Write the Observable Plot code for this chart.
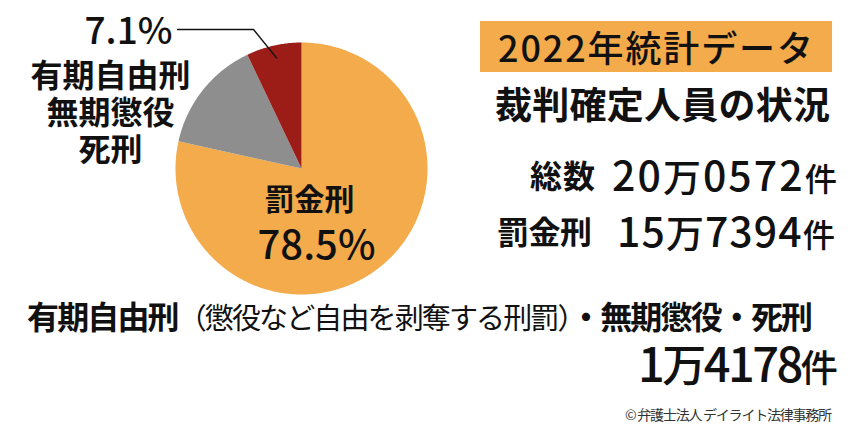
<!DOCTYPE html>
<html><head><meta charset="utf-8">
<script src="https://cdn.jsdelivr.net/npm/d3@7"></script>
<script src="https://cdn.jsdelivr.net/npm/@observablehq/plot@0.6"></script>
<style>
body{margin:0;background:#fff;}
#wrap{position:relative;width:850px;height:432px;overflow:hidden;font-family:"Noto Sans CJK JP","Noto Sans",sans-serif;color:#111;}
#wrap svg{position:absolute;left:0;top:0;overflow:visible;}
.t{position:absolute;white-space:nowrap;line-height:0.9;display:inline-block;}
.box{position:absolute;left:480px;top:21px;width:352px;height:51px;background:#F3AB4B;}
</style></head><body><div id="wrap"><div class="box"></div></div>
<script>
// ---- data ----
const categories = ["罰金刑", "その他", "有期自由刑・無期懲役・死刑"];
const counts = [157394, 29000, 14178];
const shares = [78.5, 14.4, 7.1];
const colors = ["#F3AB4B", "#8E8E8E", "#9C1C17"];
const total = 200572;
const year = "2022";

// ---- slices (angles clockwise from 12 o'clock) ----
const sum = d3.sum(counts);
let acc = 0;
const slices = categories.map((name, i) => {
  const a0 = acc / sum * 2 * Math.PI; acc += counts[i];
  const a1 = acc / sum * 2 * Math.PI;
  const n = Math.max(2, Math.ceil((a1 - a0) / 0.01));
  const ring = [[0, 0]];
  for (let k = 0; k <= n; k++) { const t = a0 + (a1 - a0) * k / n; ring.push([Math.sin(t), Math.cos(t)]); }
  ring.push([0, 0]);
  return {name, a0, a1, geometry: {type: "Polygon", coordinates: [ring]}};
});
const red = slices[2];
const mid = (red.a0 + red.a1) / 2;
const leader = [[-0.984, 1.103], [-0.381, 1.103], [0.9 * Math.sin(mid), 0.9 * Math.cos(mid)]];

const font = '"Noto Sans CJK JP","Noto Sans",sans-serif';
const chart = Plot.plot({
  width: 850, height: 432,
  marginLeft: 175, marginRight: 423, marginTop: 42, marginBottom: 138,
  projection: {type: "reflect-y", clip: false, domain: {type: "MultiPoint", coordinates: [[-1, -1], [1, 1]]}},
  color: {domain: categories, range: colors},
  style: {background: "transparent", fontFamily: font, color: "#111", overflow: "visible"},
  marks: [
    Plot.geo(slices, {geometry: "geometry", fill: "name", clip: false}),
    Plot.line(leader, {x: d => d[0], y: d => d[1], stroke: "#111", strokeWidth: 1.4, clip: false}),
    Plot.text([`${shares[2]}%`], {x: -1.024, y: 1.083, text: d => d, textAnchor: "end", fontSize: 37, fontWeight: 500, fill: "#111", clip: false}),
    Plot.text(["有期自由刑\n無期懲役\n死刑"], {x: -1.516, y: 0.448, text: d => d, fontSize: 32, fontWeight: 700, lineHeight: 1.17, fill: "#111", clip: false}),
    Plot.text([categories[0]], {x: 0.063, y: -0.255, text: d => d, fontSize: 30, fontWeight: 700, fill: "#111"}),
    Plot.text([`${shares[0]}%`], {x: 0.119, y: -0.615, text: d => d, fontSize: 40, fontWeight: 500, fill: "#111"})
  ]
});
const wrap = document.getElementById("wrap");
wrap.insertBefore(chart, wrap.firstChild);

// ---- text blocks ----
function man(n) { const m = Math.floor(n / 10000), r = String(n % 10000).padStart(4, "0"); return [String(m), r]; }
function countHTML(n, unit) {
  const [m, r] = man(n);
  return `${m}<span style="font-size:${unit}px">万</span>${r}<span style="font-size:${unit * 0.85}px">件</span>`;
}
const blocks = [
  {html: `${year}年統計データ`, left: 498, cy: 48, size: 36, weight: 500, w: 315},
  {html: "裁判確定人員の状況", left: 495, cy: 106, size: 37, weight: 700, w: 335},
  {html: "総数", left: 530, cy: 176, size: 32, weight: 700, w: 65},
  {html: countHTML(total, 38), left: 612, cy: 176, size: 41, weight: 500, w: 225},
  {html: categories[0], left: 497, cy: 232, size: 32, weight: 700, w: 95},
  {html: countHTML(counts[0], 38), left: 617, cy: 232, size: 41, weight: 500, w: 218},
  {html: `有期自由刑<span style="font-weight:400;font-size:29px">（懲役など自由を剥奪する刑罰）</span>・無期懲役・死刑`, left: 27, cy: 317, size: 32, weight: 700, w: 786},
  {html: countHTML(counts[2], 44), left: 638, cy: 365, size: 47, weight: 500, w: 200},
  {html: "© 弁護士法人 デイライト法律事務所", left: 625, cy: 415, size: 14, weight: 400, w: 207, color: "#333"}
];
const els = blocks.map(b => {
  const d = document.createElement("div");
  d.className = "t";
  d.innerHTML = b.html;
  d.style.left = b.left + "px";
  d.style.top = (b.cy - 0.506 * b.size) + "px";
  d.style.fontSize = b.size + "px";
  d.style.fontWeight = b.weight;
  if (b.color) d.style.color = b.color;
  wrap.appendChild(d);
  return [d, b];
});
function fit() {
  for (const [d, b] of els) {
    d.style.letterSpacing = "0px";
    const w = d.getBoundingClientRect().width;
    const n = [...d.textContent].length;
    const ls = (b.w - w) / Math.max(1, n - 1);
    d.style.letterSpacing = ls.toFixed(2) + "px";
  }
}
fit();
if (document.fonts && document.fonts.ready) document.fonts.ready.then(fit);
</script>
</body></html>
